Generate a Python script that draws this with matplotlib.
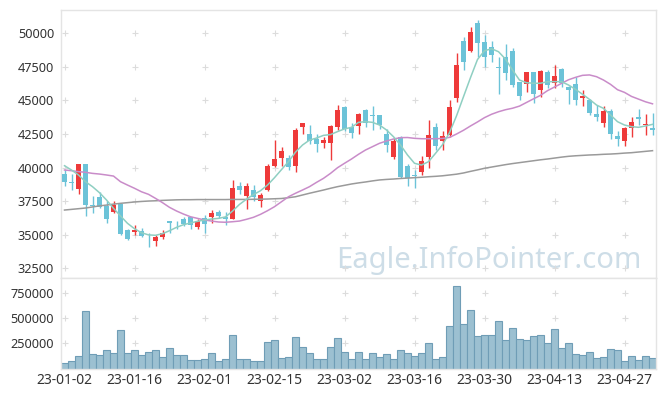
import matplotlib.pyplot as plt
import numpy as np
import pandas as pd

plt.rcParams['font.family'] = ['Noto Sans', 'DejaVu Sans']

# trading days (KRX calendar, closed on Seollal, 3.1 and labour day)
days = pd.bdate_range('2023-01-02', '2023-05-04', freq='C',
                      holidays=['2023-01-23', '2023-01-24', '2023-03-01', '2023-05-01'])
day_labels = [d.strftime('%y-%m-%d') for d in days]

opens = [39500, 38950, 38400, 40250, 37250, 37800, 37150, 36700, 37300, 35350,
         35230, 35300, 35000, 34550, 34800, 36050, 35750, 36200, 36300, 35600,
         36250, 36350, 36700, 36350, 36200, 38650, 37900, 38300, 37550, 38350,
         40150, 40700, 40700, 40100, 43050, 42500, 42100, 41850, 41850, 43050,
         44500, 43050, 43100, 44300, 43870, 43900, 42500, 40800, 42300, 40100,
         39420, 39650, 40800, 43050, 42000, 42400, 45150, 49450, 48650, 50800,
         49350, 48950, 47450, 48250, 48650, 46400, 46200, 47100, 45750, 47150,
         46300, 47350, 46000, 46250, 45200, 45050, 44000, 43350, 44200, 42350,
         42000, 42950, 43800, 43150, 42950]
highs = [39800, 39500, 40300, 40300, 37880, 38200, 37500, 37550, 37350, 35400,
         35700, 35500, 35100, 35000, 35350, 36050, 36000, 36300, 36320, 36200,
         36450, 36850, 36850, 36700, 39100, 38900, 38850, 38700, 38100, 40250,
         42050, 41500, 40950, 42950, 43300, 43200, 42500, 42300, 43150, 44650,
         44550, 43300, 44050, 44350, 44600, 43950, 42900, 42200, 42350, 40250,
         39820, 40900, 43550, 43300, 42750, 45030, 48500, 49750, 50450, 51000,
         49850, 49400, 48250, 49200, 48900, 46400, 47150, 47150, 47250, 47250,
         47650, 47450, 46050, 46750, 45750, 45100, 44650, 44550, 44400, 42700,
         43000, 43800, 44400, 44000, 44050]
lows = [38600, 38300, 38000, 36400, 36600, 37000, 35850, 36600, 35000, 34600,
        34950, 34800, 34100, 34150, 34650, 35100, 35450, 35650, 35400, 35450,
        35150, 35900, 36250, 35700, 36150, 38050, 36950, 37500, 37100, 38250,
        40050, 40100, 39800, 39650, 42500, 41750, 41150, 41450, 40600, 42800,
        42700, 42200, 42500, 43050, 42800, 42850, 41150, 40650, 39200, 38600,
        38460, 39450, 39950, 41300, 41300, 42300, 44900, 47300, 48600, 48250,
        47500, 47900, 45450, 46550, 46000, 45050, 45650, 44800, 45250, 45900,
        45950, 46000, 44700, 44650, 44550, 43900, 43500, 43050, 42150, 41600,
        41600, 42300, 43200, 42450, 42450]
closes = [38950, 38850, 40250, 37200, 37150, 37050, 36200, 37200, 35050, 34700,
          35350, 34930, 34950, 34850, 35150, 35900, 35700, 35800, 35720, 36050,
          35800, 36600, 36400, 36200, 38450, 38300, 38650, 37800, 37950, 40150,
          40650, 41250, 40050, 42800, 43300, 42000, 41750, 42050, 43100, 44300,
          42850, 42600, 44000, 43300, 43830, 43150, 41700, 41950, 39300, 39200,
          39370, 40500, 42450, 41600, 42350, 44500, 47650, 47900, 50100, 49250,
          48200, 48400, 47400, 47050, 46150, 45300, 47100, 45450, 47200, 46150,
          46850, 46300, 45800, 45000, 45350, 44050, 43800, 44200, 42500, 42150,
          42950, 43400, 43600, 43250, 42800]
volumes = [52000, 75000, 124000, 569000, 141000, 131000, 181000, 154000, 378000, 154000,
           181000, 134000, 164000, 184000, 111000, 200000, 134000, 134000, 85000, 85000,
           95000, 154000, 75000, 95000, 332000, 95000, 95000, 75000, 75000, 263000,
           283000, 105000, 115000, 312000, 213000, 154000, 95000, 95000, 211000, 300000,
           161000, 92000, 161000, 92000, 151000, 112000, 141000, 92000, 181000, 151000,
           121000, 151000, 250000, 92000, 112000, 418000, 816000, 438000, 576000, 319000,
           329000, 329000, 467000, 280000, 398000, 290000, 280000, 319000, 329000, 250000,
           388000, 200000, 250000, 141000, 131000, 161000, 102000, 112000, 190000, 181000,
           72000, 121000, 82000, 121000, 102000]

# moving averages as drawn
ma5 = [40140, 39820, 39450, 38950, 38580, 38130, 37590, 36970, 36400, 35850,
       35450, 35150, 34990, 34960, 35080, 35300, 35550, 35750, 35880, 36000,
       36100, 36170, 36220, 36330, 36760, 37260, 37650, 37990, 38280, 38700,
       39250, 39850, 40450, 41150, 41680, 42050, 42200, 42400, 42460, 42680,
       42880, 43000, 43370, 43420, 43370, 43170, 42800, 42300, 41680, 40940,
       40320, 40190, 40440, 41060, 41700, 42600, 43850, 45280, 46700, 48050,
       48700, 48850, 48630, 48080, 47270, 46520, 46320, 46280, 46280, 46400,
       46400, 46400, 46150, 45830, 45460, 45080, 44660, 44410, 43920, 43420,
       43170, 43050, 43000, 43100, 43220]
ma20 = [39820, 39770, 39700, 39650, 39570, 39520, 39450, 39370, 38950, 38700,
        38460, 38200, 38010, 37710, 37390, 37040, 36770, 36540, 36340, 36220,
        36100, 36020, 35950, 35930, 35970, 36020, 36150, 36300, 36520, 36790,
        37090, 37460, 37830, 38090, 38330, 38580, 38900, 39200, 39570, 39990,
        40320, 40640, 40990, 41310, 41560, 41810, 41980, 42130, 42230, 42240,
        42180, 42150, 42150, 42150, 42170, 42250, 42500, 42780, 43100, 43400,
        43720, 43970, 44160, 44310, 44420, 44580, 44850, 45120, 45380, 45730,
        46000, 46270, 46540, 46720, 46870, 46900, 46770, 46520, 46200, 45800,
        45600, 45300, 45100, 44900, 44750]
ma60 = [36840, 36890, 36940, 36990, 37070, 37150, 37210, 37280, 37340, 37390,
        37440, 37480, 37510, 37530, 37560, 37580, 37600, 37610, 37610, 37620,
        37620, 37620, 37620, 37620, 37630, 37630, 37630, 37640, 37650, 37660,
        37680, 37700, 37760, 37830, 37960, 38090, 38210, 38330, 38460, 38580,
        38680, 38780, 38860, 38930, 39010, 39080, 39120, 39150, 39190, 39220,
        39250, 39280, 39320, 39350, 39390, 39450, 39510, 39600, 39720, 39830,
        39950, 40040, 40130, 40220, 40300, 40370, 40440, 40510, 40580, 40640,
        40710, 40780, 40840, 40880, 40910, 40940, 40960, 40990, 41010, 41040,
        41080, 41110, 41160, 41210, 41260]

price_ticks = [32500, 35000, 37500, 40000, 42500, 45000, 47500, 50000]
vol_ticks = [250000, 500000, 750000]

UP = '#ee3a3a'
DOWN = '#6cc3d8'
FRAME = '#e4e4e4'

o = np.array(opens)
c = np.array(closes)
x = np.arange(len(o))
up = c >= o
col = np.where(up, UP, DOWN)

fig = plt.figure(figsize=(6.65, 3.96), dpi=100)
ax = fig.add_axes([61/665, 1-278/396, 595/665, 268/396])
axv = fig.add_axes([61/665, 1-368.5/396, 595/665, 90.5/396], sharex=ax)

# watermark
ax.text(0.975, 0.037, 'Eagle.InfoPointer.com', transform=ax.transAxes,
        ha='right', va='baseline', fontsize=21, color='#cddde7', zorder=0)

# grid is drawn as little crosses
gx, gy = np.meshgrid(np.arange(0, len(x), 10), price_ticks)
ax.scatter(gx.ravel(), gy.ravel(), marker='+', s=22, lw=0.8, color='#dcdcdc', zorder=0.5)
gx, gy = np.meshgrid(np.arange(0, len(x), 10), vol_ticks)
axv.scatter(gx.ravel(), gy.ravel(), marker='+', s=22, lw=0.8, color='#dcdcdc', zorder=0.5)

# candles
ax.vlines(x, lows, highs, colors=col, lw=1.0, zorder=2)
body = np.maximum(np.abs(c - o), 60)
ax.bar(x, body, bottom=np.minimum(o, c), width=0.7, color=col, lw=0, zorder=3)

# moving averages
ax.plot(x, ma60, color='#9a9a9a', lw=1.1, zorder=4)
ax.plot(x, ma20, color='#c98cc9', lw=1.1, zorder=4)
ax.plot(x, ma5, color='#8fcfc2', lw=1.1, zorder=4)

ax.set_xlim(-0.5, len(x) - 0.5)
ax.set_ylim(31780, 51735)
ax.set_yticks(price_ticks)
ax.set_yticklabels([str(v) for v in price_ticks])
ax.tick_params(axis='x', labelbottom=False, length=0)

# volume
axv.bar(x, volumes, width=1.0, color='#9cc0d1', edgecolor='#6f9db6', lw=0.8, zorder=2)
axv.set_ylim(0, 894000)
axv.set_yticks(vol_ticks)
axv.set_yticklabels([str(v) for v in vol_ticks])
axv.set_xticks(np.arange(0, len(x), 10))
axv.set_xticklabels([day_labels[i] for i in range(0, len(x), 10)])

for a in (ax, axv):
    a.tick_params(axis='both', length=0, pad=5, labelsize=9.2, labelcolor='#333333')
    for s in a.spines.values():
        s.set_color(FRAME)
        s.set_linewidth(1.0)
axv.tick_params(axis='x', pad=3, labelsize=10)

fig.savefig('out.png', dpi=100, facecolor='white')
